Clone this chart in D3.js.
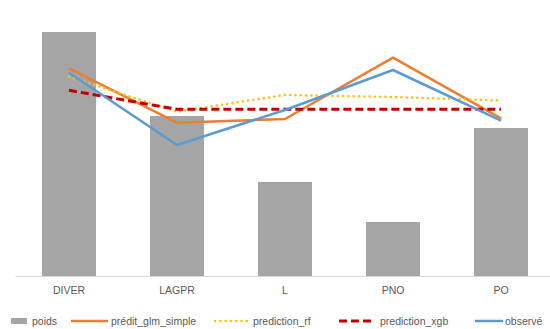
<!DOCTYPE html>
<html>
<head>
<meta charset="utf-8">
<script src="https://cdn.jsdelivr.net/npm/d3@7/dist/d3.min.js"></script>
<style>
  html, body { margin: 0; padding: 0; background: #fff; }
  svg { display: block; font-family: "Liberation Sans", "DejaVu Sans", sans-serif; }
</style>
</head>
<body>
<svg id="chart" width="550" height="329"></svg>
<script>
// Categories and series
const categories = ["DIVER", "LAGPR", "L", "PNO", "PO"];
const poids = [6100, 4000, 2350, 1350, 3700];
const preditGlmSimple = [207.7, 153.3, 157, 218.3, 157.7];
const predictionRf = [199.3, 164.3, 181, 179, 175.5];
const predictionXgb = [185.7, 166.7, 166.7, 166.7, 166.7];
const observe = [203.3, 131, 166, 206, 155.3];

const legendLabels = ["poids", "prédit_glm_simple", "prediction_rf", "prediction_xgb", "observé"];

const svg = d3.select("#chart");
const baseY = 276, topY = 16;

const x = d3.scaleBand().domain(categories).range([15, 555])
  .paddingInner(0.5).paddingOuter(0.25);
const yBar = d3.scaleLinear().domain([0, 6500]).range([baseY, topY]);
const yLine = d3.scaleLinear().domain([0, 260]).range([baseY, topY]);

// Bars
svg.append("g").selectAll("rect").data(categories).join("rect")
  .attr("x", d => x(d))
  .attr("width", x.bandwidth())
  .attr("y", (d, i) => yBar(poids[i]))
  .attr("height", (d, i) => baseY - yBar(poids[i]))
  .attr("fill", "#A5A5A5");

// Category axis
const xAxis = d3.axisBottom(x).tickSize(0).tickPadding(11);
const ax = svg.append("g").attr("transform", `translate(0,${baseY})`).call(xAxis);
ax.select(".domain").attr("stroke", "#D9D9D9").attr("stroke-width", 1);
ax.selectAll("text").attr("fill", "#595959").attr("font-size", "10.5px");

// Lines
const series = [
  { values: preditGlmSimple, color: "#ED7D31", width: 2.5, dash: null, cap: "butt" },
  { values: predictionRf, color: "#FFC000", width: 2.5, dash: "0.1 5.2", cap: "round" },
  { values: predictionXgb, color: "#C00000", width: 3, dash: "8 4", cap: "butt" },
  { values: observe, color: "#5B9BD5", width: 2.5, dash: null, cap: "butt" }
];
const line = d3.line()
  .x((d, i) => x(categories[i]) + x.bandwidth() / 2)
  .y(d => yLine(d));

svg.append("g").selectAll("path").data(series).join("path")
  .attr("d", s => line(s.values))
  .attr("fill", "none")
  .attr("stroke", s => s.color)
  .attr("stroke-width", s => s.width)
  .attr("stroke-dasharray", s => s.dash)
  .attr("stroke-linecap", s => s.cap)
  .attr("stroke-linejoin", "round");

// Legend
const legY = 321;
const lg = svg.append("g").attr("font-size", "10.5px").attr("fill", "#595959");
lg.append("rect").attr("x", 11).attr("y", legY - 3).attr("width", 16).attr("height", 6).attr("fill", "#A5A5A5");
lg.append("text").attr("x", 32).attr("y", legY).attr("dy", "0.35em").text(legendLabels[0]);

const legendLines = [
  { s: series[0], x0: 71, x1: 108, tx: 111, label: legendLabels[1] },
  { s: series[1], x0: 215, x1: 250, tx: 253, label: legendLabels[2] },
  { s: series[2], x0: 339, x1: 373, tx: 380, label: legendLabels[3] },
  { s: series[3], x0: 475, x1: 503, tx: 505, label: legendLabels[4] }
];
legendLines.forEach(l => {
  lg.append("line").attr("x1", l.x0).attr("x2", l.x1).attr("y1", legY).attr("y2", legY)
    .attr("stroke", l.s.color).attr("stroke-width", l.s.width)
    .attr("stroke-dasharray", l.s.dash).attr("stroke-linecap", l.s.cap);
  lg.append("text").attr("x", l.tx).attr("y", legY).attr("dy", "0.35em").text(l.label);
});
</script>
</body>
</html>
